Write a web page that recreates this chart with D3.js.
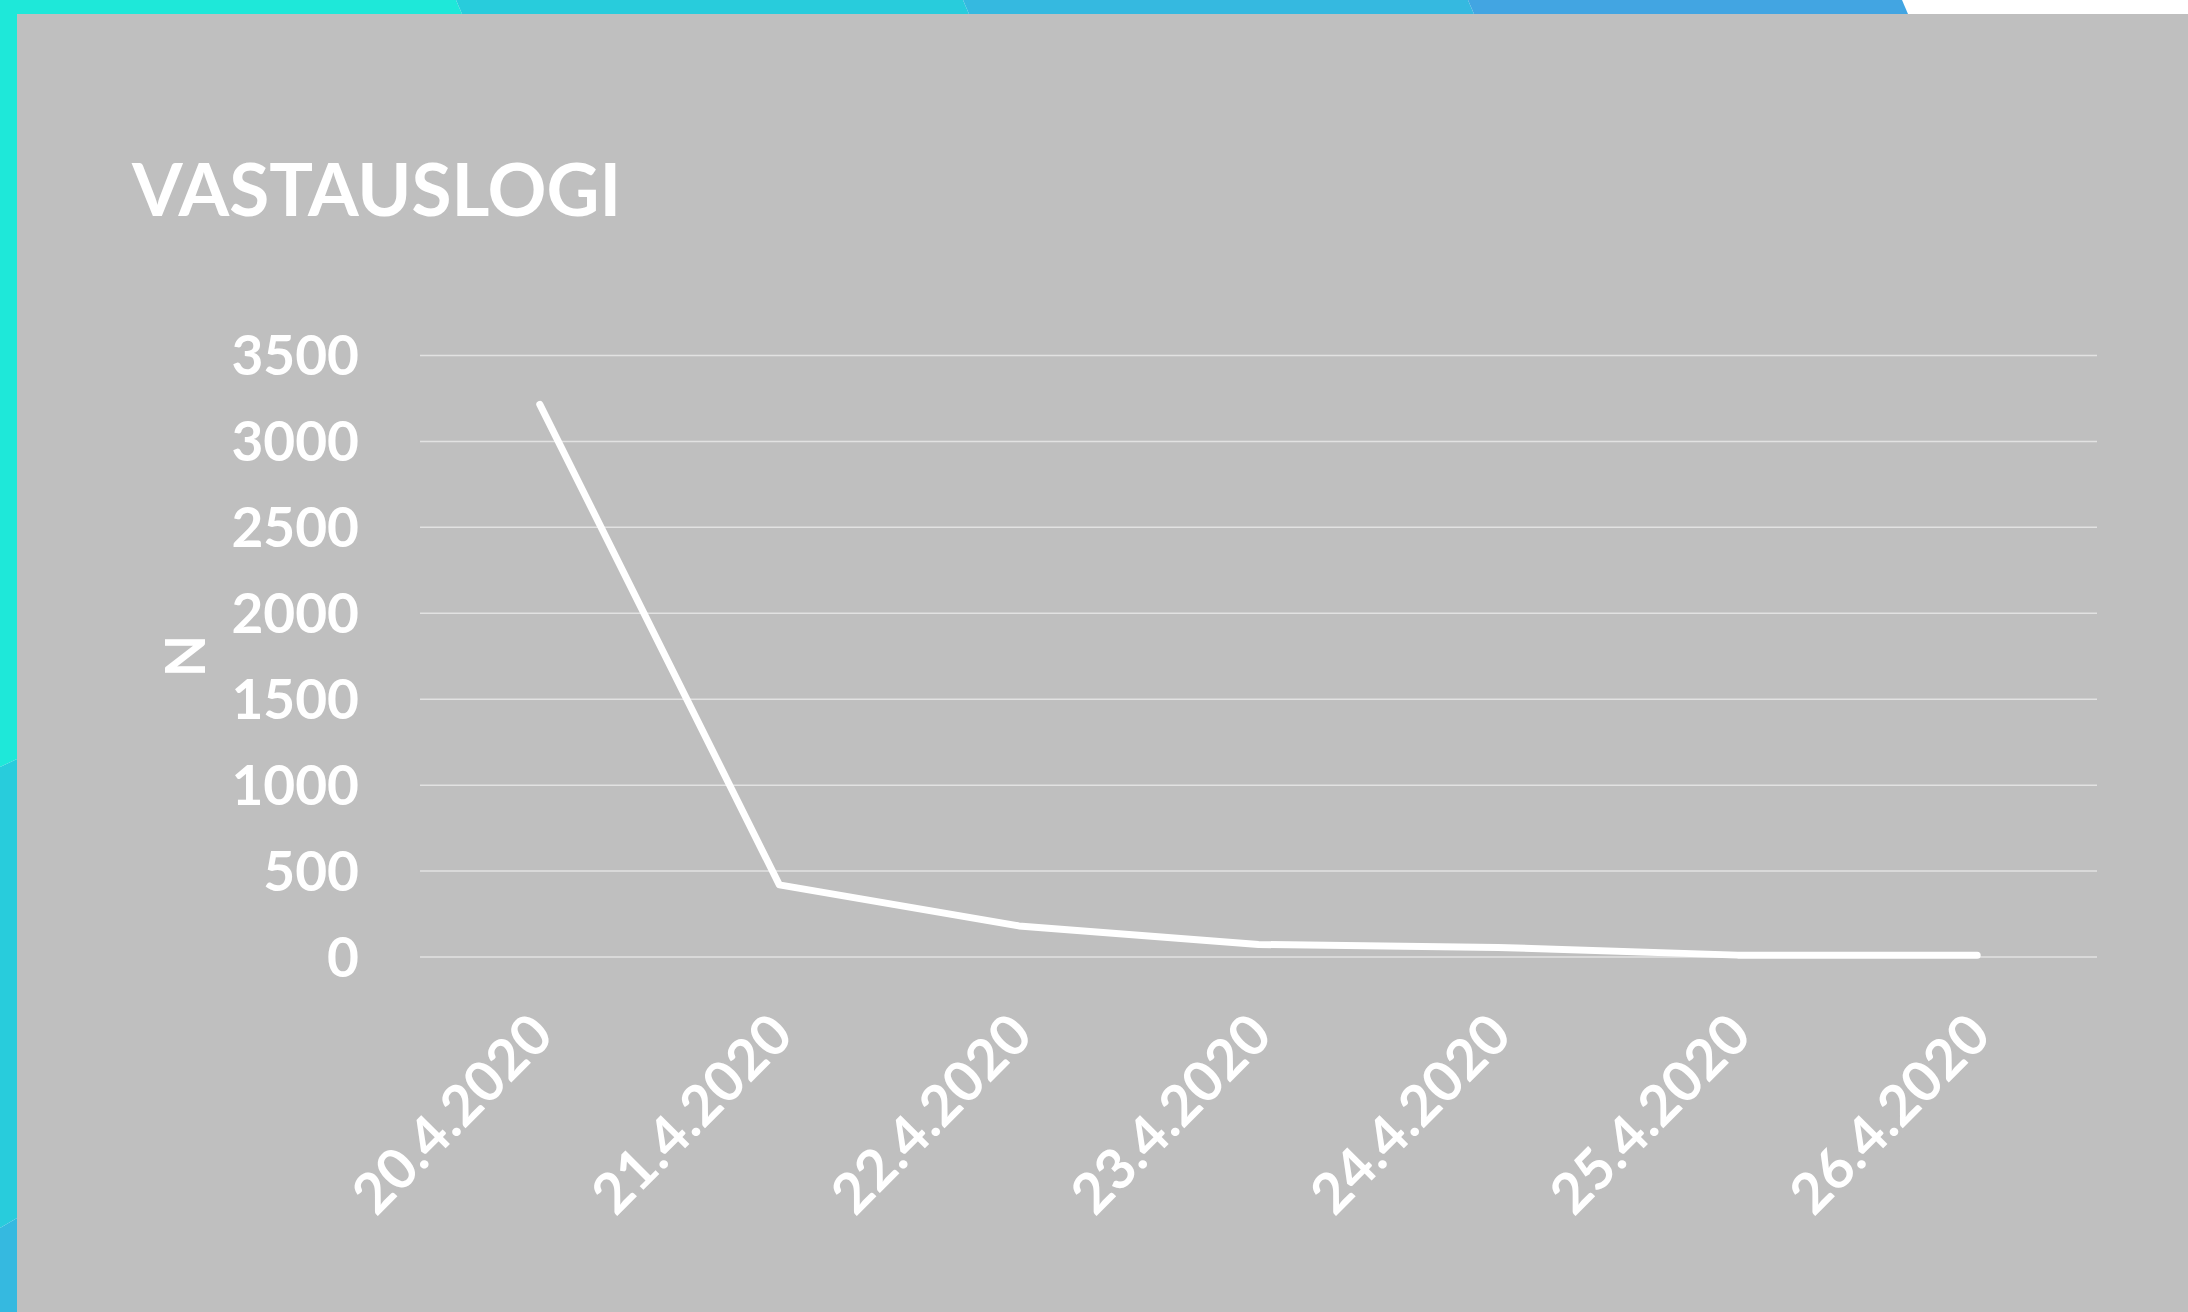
<!DOCTYPE html>
<html>
<head>
<meta charset="utf-8">
<script src="https://cdn.jsdelivr.net/npm/d3@7"></script>
<style>
  body { margin: 0; background: #fff; }
  text { font-family: Lato, "Open Sans", sans-serif; font-weight: bold; fill: #fff; }
</style>
</head>
<body>
<div class="chart"></div>
<script>
// datos
var dates = ["20.4.2020", "21.4.2020", "22.4.2020", "23.4.2020", "24.4.2020", "25.4.2020", "26.4.2020"];
var values = [3213, 417, 178, 70, 53, 8, 8];
var yTicks = [0, 500, 1000, 1500, 2000, 2500, 3000, 3500];
var title = "VASTAUSLOGI";
var yTitle = "N";

var W = 2188, H = 1312;
var margin = {top: 355, right: 91, bottom: 355, left: 420};
var w = 2097 - margin.left;   // ancho del área de trazado
var h = 956.5 - margin.top;   // altura del área de trazado

var svg = d3.select(".chart")
    .append("svg")
    .attr("width", W)
    .attr("height", H);

// franjas decorativas arriba y a la izquierda
var deco = [
  {c: "#1ee8d9", p: [[0,0],[456,0],[462,14],[17,14],[17,759],[0,767]]},
  {c: "#28ccdc", p: [[456,0],[963,0],[969,14],[462,14]]},
  {c: "#35b9e0", p: [[963,0],[1468,0],[1474,14],[969,14]]},
  {c: "#42a5e2", p: [[1468,0],[1902,0],[1908,14],[1474,14]]},
  {c: "#28ccdc", p: [[0,767],[17,759],[17,1218],[0,1228]]},
  {c: "#35b9e0", p: [[0,1228],[17,1218],[17,1312],[0,1312]]}
];
svg.selectAll(".deco")
  .data(deco)
  .enter()
  .append("polygon")
  .attr("points", function(d){ return d.p.join(" "); })
  .attr("fill", function(d){ return d.c; });

// panel gris
svg.append("rect")
  .attr("x", 17).attr("y", 14)
  .attr("width", W - 17).attr("height", H - 14)
  .attr("fill", "#bfbfbf");

svg.append("text")
  .attr("x", 132).attr("y", 216)
  .style("font-size", "73px")
  .text(title);

var mainG = svg.append("g")
  .attr("transform", "translate(" + margin.left + "," + margin.top + ")");

var x = d3.scalePoint()
  .domain(dates)
  .range([0, w])
  .padding(0.5);

var y = d3.scaleLinear()
  .domain([0, 3500])
  .range([h, 0]);

// eje y con líneas de cuadrícula
var yAxis = d3.axisLeft(y)
  .tickValues(yTicks)
  .tickFormat(d3.format("d"))
  .tickSize(-w)
  .tickPadding(61);

var gy = mainG.append("g")
  .attr("class", "y axis")
  .call(yAxis);
gy.select(".domain").remove();
gy.selectAll(".tick line")
  .attr("stroke", "#e2e2e2")
  .attr("stroke-width", 1.5);
gy.selectAll(".tick text")
  .attr("fill", "#fff")
  .attr("dy", "0.36em")
  .style("font-size", "55px")
  .style("font-family", "Lato, sans-serif")
  .style("font-weight", "bold");

// etiquetas del eje x, giradas
mainG.selectAll(".xlabel")
  .data(dates)
  .enter()
  .append("text")
  .attr("class", "xlabel")
  .attr("text-anchor", "end")
  .attr("transform", function(d){
    return "translate(" + (x(d) + 16) + "," + (1038 - margin.top) + ") rotate(-45)";
  })
  .style("font-size", "56px")
  .text(function(d){ return d; });

svg.append("text")
  .attr("text-anchor", "middle")
  .attr("transform", "translate(205,656) rotate(-90)")
  .style("font-size", "55px")
  .text(yTitle);

var line = d3.line()
  .x(function(d, i){ return x(dates[i]); })
  .y(function(d){ return y(d); });

mainG.append("path")
  .datum(values)
  .attr("d", line)
  .attr("fill", "none")
  .attr("stroke", "#fff")
  .attr("stroke-width", 7)
  .attr("stroke-linecap", "round")
  .attr("stroke-linejoin", "round");
</script>
</body>
</html>
